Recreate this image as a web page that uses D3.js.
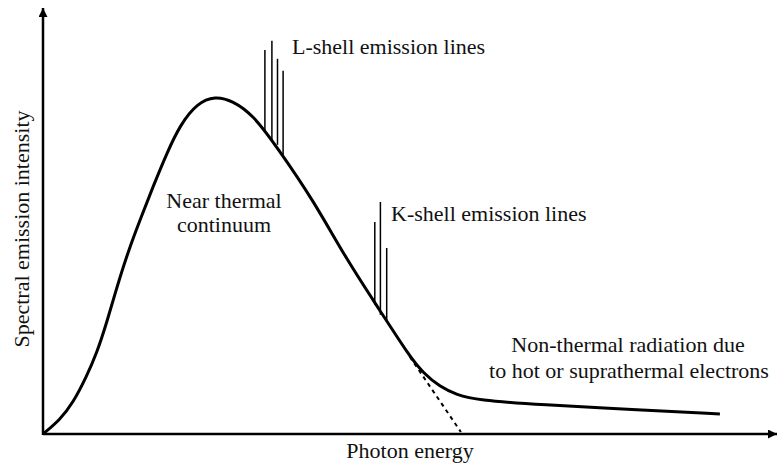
<!DOCTYPE html>
<meta charset="utf-8">
<script src="https://d3js.org/d3.v7.min.js"></script>
<style>
  body { margin: 0; background: #fff; }
</style>
<div id="chart"></div>
<script>
// continuum: photon energy vs spectral intensity (arbitrary units)
var energy    = [0, 0.24, 0.43, 0.62, 0.77, 0.91, 1.057, 1.214, 1.386, 1.571, 1.771, 1.96, 2.2, 2.46, 2.71, 3.0, 3.34, 3.86, 4.34, 4.81, 5.24, 5.43, 5.67, 5.91, 6.2, 7.1, 8.53, 9.67];
var intensity = [0, 0.35, 0.78, 1.43, 2.03, 2.78, 3.68, 4.55, 5.35, 6.18, 7.03, 7.73, 8.27, 8.45, 8.33, 7.98, 7.18, 5.85, 4.35, 3.1, 1.93, 1.53, 1.18, 0.98, 0.85, 0.73, 0.6, 0.5];

// thermal extrapolation (dashed)
var dashEnergy    = [5.24, 5.97];
var dashIntensity = [1.93, 0.05];

// emission lines: energy, base (on continuum), peak
var lShellE    = [3.17, 3.27, 3.35, 3.43];
var lShellBase = [7.6, 7.35, 7.23, 6.93];
var lShellPeak = [9.6, 9.83, 9.38, 9.08];
var kShellE    = [4.74, 4.82, 4.91];
var kShellBase = [3.23, 2.98, 2.85];
var kShellPeak = [5.3, 5.8, 4.65];

var width = 777, height = 465;
var FONT = '"Liberation Serif", "DejaVu Serif", "Times New Roman", serif';

var svg = d3.select("#chart").append("svg")
  .attr("width", width)
  .attr("height", height);

var x = d3.scaleLinear().domain([0, 10]).range([43, 743]);
var y = d3.scaleLinear().domain([0, 10]).range([434, 34]);

// arrow head
svg.append("defs").append("marker")
  .attr("id", "arrow")
  .attr("viewBox", "0 0 10 10")
  .attr("refX", 10).attr("refY", 5)
  .attr("markerWidth", 13).attr("markerHeight", 9)
  .attr("markerUnits", "userSpaceOnUse")
  .attr("orient", "auto")
  .append("path")
    .attr("d", "M0,0L10,5L0,10z")
    .attr("fill", "#000");

// axes
svg.append("line")
  .attr("x1", x(0)).attr("y1", y(0))
  .attr("x2", 777).attr("y2", y(0))
  .attr("stroke", "#000").attr("stroke-width", 2.5)
  .attr("marker-end", "url(#arrow)");
svg.append("line")
  .attr("x1", x(0)).attr("y1", y(0) + 1)
  .attr("x2", x(0)).attr("y2", 8)
  .attr("stroke", "#000").attr("stroke-width", 2.5)
  .attr("marker-end", "url(#arrow)");

var line = d3.line()
  .x(function(d) { return x(d[0]); })
  .y(function(d) { return y(d[1]); })
  .curve(d3.curveBasis);

// dashed thermal extrapolation
svg.append("path")
  .datum(d3.zip(dashEnergy, dashIntensity))
  .attr("d", line)
  .attr("fill", "none")
  .attr("stroke", "#000")
  .attr("stroke-width", 2)
  .attr("stroke-dasharray", "4,4");

// emission lines
function drawLines(e, base, peak) {
  svg.selectAll(null)
    .data(d3.range(e.length))
    .enter().append("line")
      .attr("x1", function(i) { return x(e[i]); })
      .attr("x2", function(i) { return x(e[i]); })
      .attr("y1", function(i) { return y(base[i]); })
      .attr("y2", function(i) { return y(peak[i]); })
      .attr("stroke", "#000")
      .attr("stroke-width", 1.5);
}
drawLines(lShellE, lShellBase, lShellPeak);
drawLines(kShellE, kShellBase, kShellPeak);

// continuum
svg.append("path")
  .datum(d3.zip(energy, intensity))
  .attr("d", line)
  .attr("fill", "none")
  .attr("stroke", "#000")
  .attr("stroke-width", 3);

// labels
function label(tx, ty, str, anchor) {
  return svg.append("text")
    .attr("x", tx).attr("y", ty)
    .attr("text-anchor", anchor || "start")
    .style("font-family", FONT)
    .style("font-size", "22px")
    .style("fill", "#111")
    .text(str);
}
label(292, 54, "L-shell emission lines");
label(391, 221, "K-shell emission lines");
label(224, 208, "Near thermal", "middle");
label(224, 232, "continuum", "middle");
label(628, 352, "Non-thermal radiation due", "middle");
label(629, 378, "to hot or suprathermal electrons", "middle");
label(410, 458, "Photon energy", "middle");
label(0, 0, "Spectral emission intensity", "middle")
  .attr("transform", "translate(29,229) rotate(-90)");
</script>
